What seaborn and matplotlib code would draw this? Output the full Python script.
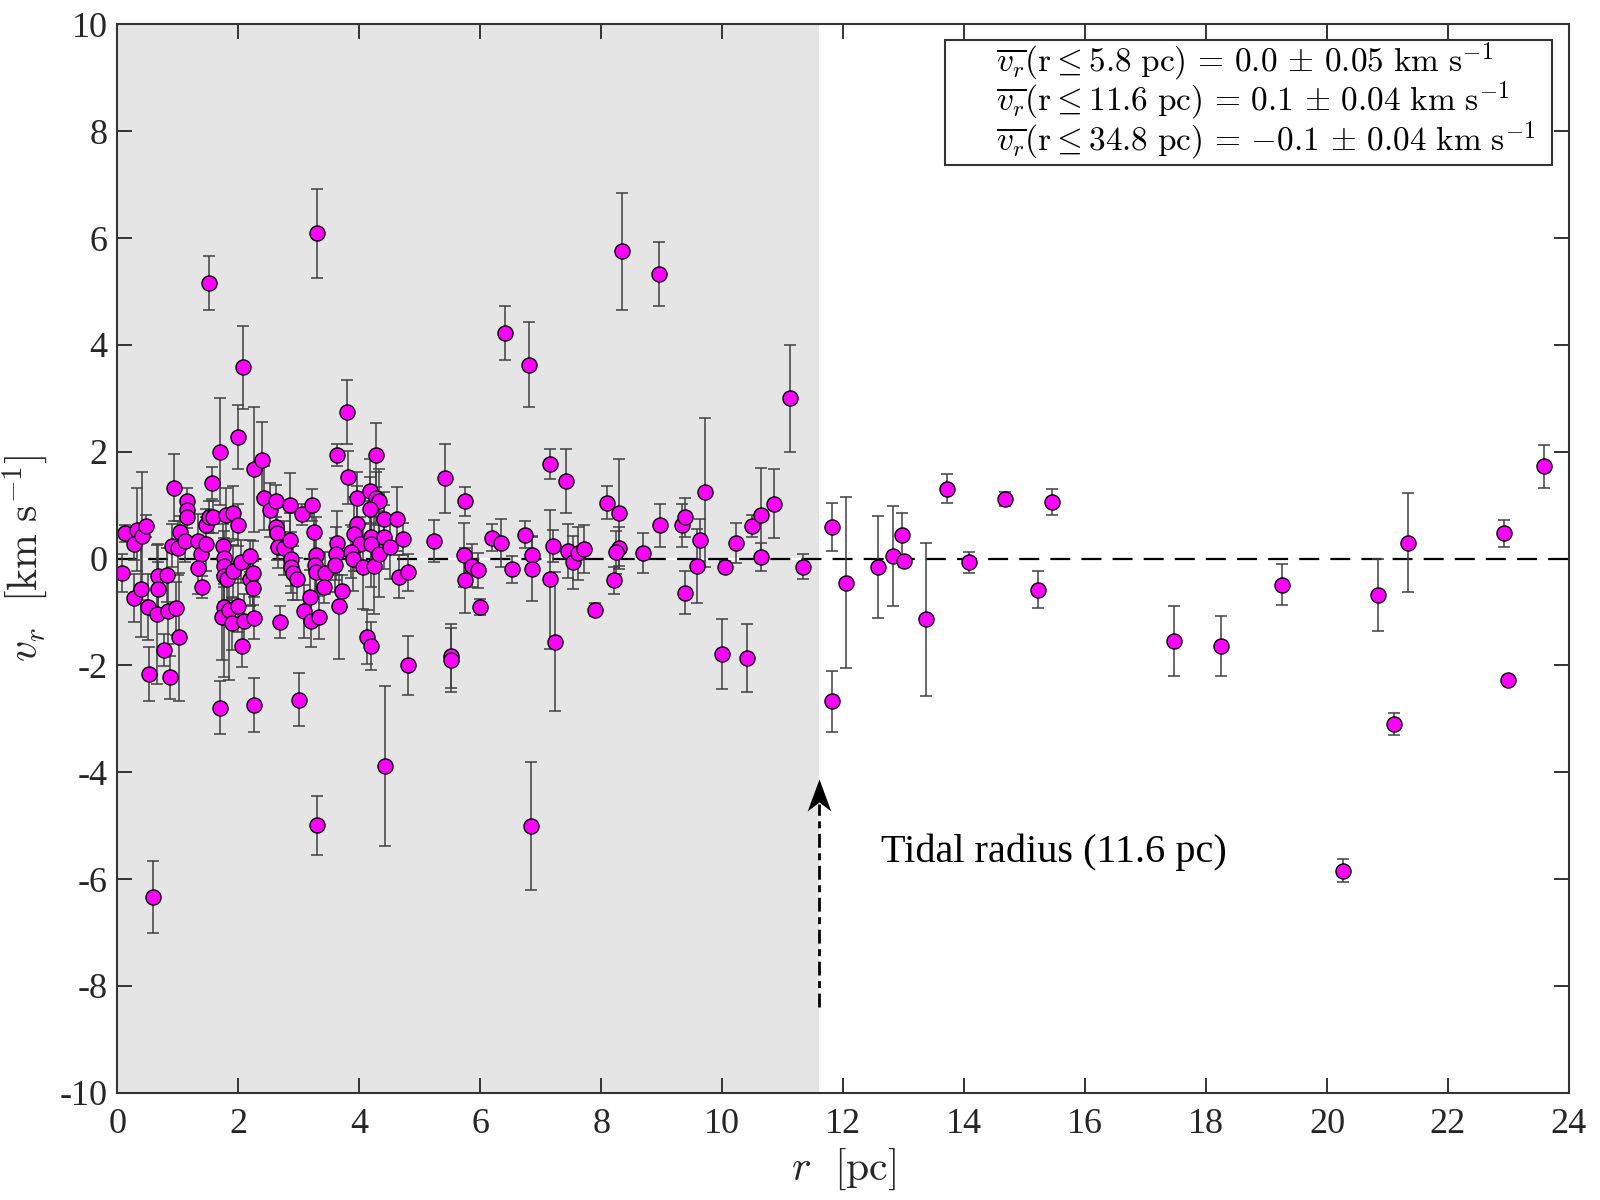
import numpy as np
import pandas as pd
import matplotlib
matplotlib.use("Agg")
import matplotlib.pyplot as plt
import seaborn as sns
from matplotlib.patches import Rectangle
from matplotlib.path import Path

# ---------------- data ----------------
r_pc = [
    0.07, 0.13, 0.28, 0.33, 0.41, 0.47, 0.27, 0.40, 0.51, 0.65, 0.68, 0.68, 0.83, 0.84, 0.97,
    0.78, 1.02, 0.53, 0.87, 0.93, 0.90, 1.00, 1.04, 1.12, 1.15, 1.15, 1.16, 1.34, 1.38, 1.47,
    1.34, 1.40, 1.56, 1.46, 1.51, 1.58, 1.69, 1.80, 1.92, 1.99, 2.00, 2.26, 2.40, 1.74, 1.77,
    1.77, 1.77, 1.81, 1.92, 2.05, 2.20, 2.20, 2.25, 2.25, 1.77, 1.73, 1.85, 1.89, 2.00, 2.10,
    2.26, 2.06, 2.43, 2.53, 2.62, 2.62, 2.64, 2.66, 2.75, 2.69, 2.86, 2.86,
    0.59, 1.52, 2.08, 1.69, 2.26,
    3.80, 3.64, 4.28, 3.82, 3.97, 4.17, 4.28, 4.32, 4.17, 4.41, 4.63, 3.05, 3.22, 3.25, 2.88,
    2.88, 2.91, 2.97, 3.29, 3.27, 3.29, 3.43, 3.42, 3.63, 3.62, 3.60, 3.71, 3.67, 3.19, 3.08,
    3.20, 3.33, 3.96, 3.92, 4.01, 3.86, 3.90, 4.07, 4.20, 4.20, 4.25, 4.32, 4.41, 4.51, 4.72,
    4.66, 4.80, 4.13, 4.19, 4.81, 3.01, 3.31, 3.31, 4.42,
    5.23, 5.42, 5.51, 5.52, 5.75, 5.74, 5.86, 5.96, 5.75, 5.99, 6.20, 6.35, 6.53, 6.74, 6.86,
    6.86, 6.41, 6.80, 6.84, 7.16, 7.42, 7.20, 7.15, 7.23, 7.45, 7.53, 7.61, 7.72, 7.90, 8.10,
    8.29, 8.30, 8.25, 8.21, 8.34, 8.69, 8.95, 8.97, 9.34, 9.38, 9.39, 9.58, 9.64, 9.71, 10.00,
    10.04, 10.23, 10.41, 10.49, 10.64, 10.65, 10.85, 11.12, 11.33,
    11.82, 11.82, 12.05, 12.58, 12.83, 12.98, 13.00, 13.37, 13.72, 14.08, 14.67, 15.23, 15.45,
    17.47, 18.25, 19.26, 20.26, 20.85, 21.10, 21.34, 22.93, 22.99, 23.58,
]
vr_kms = [
    -0.27, 0.47, 0.27, 0.54, 0.42, 0.61, -0.74, -0.57, -0.90, -1.04, -0.33, -0.57, -0.31, -0.99, -0.93,
    -1.71, -1.47, -2.16, -2.22, 1.33, 0.24, 0.20, 0.49, 0.33, 1.08, 0.91, 0.77, 0.33, 0.08, 0.27,
    -0.17, -0.53, 1.41, 0.63, 0.77, 0.78, 2.00, 0.82, 0.86, 0.63, 2.27, 1.67, 1.85, 0.24, 0.02,
    -0.14, -0.32, -0.38, -0.24, -0.06, 0.04, -0.38, -0.27, -0.55, -0.91, -1.10, -0.97, -1.21, -0.88, -1.16,
    -1.11, -1.63, 1.13, 0.91, 1.07, 0.60, 0.47, 0.22, 0.20, -1.18, 1.00, 0.35,
    -6.34, 5.16, 3.58, -2.79, -2.74,
    2.75, 1.94, 1.94, 1.52, 1.13, 1.27, 1.13, 1.07, 0.92, 0.75, 0.74, 0.83, 1.00, 0.49, -0.01,
    -0.15, -0.27, -0.38, 0.07, -0.12, -0.26, -0.27, -0.53, 0.29, 0.09, -0.12, -0.60, -0.88, -0.72, -0.99,
    -1.16, -1.10, 0.65, 0.46, 0.27, 0.13, -0.01, -0.15, 0.41, 0.27, -0.13, 0.09, 0.41, 0.21, 0.37,
    -0.34, -0.26, -1.47, -1.64, -2.00, -2.64, 6.09, -4.99, -3.88,
    0.33, 1.50, -1.83, -1.90, 1.07, 0.06, -0.13, -0.22, -0.41, -0.91, 0.39, 0.29, -0.20, 0.45, 0.07,
    -0.20, 4.22, 3.63, -5.00, 1.77, 1.46, 0.24, -0.39, -1.56, 0.14, -0.07, 0.10, 0.18, -0.96, 1.05,
    0.86, 0.20, 0.12, -0.41, 5.75, 0.10, 5.33, 0.62, 0.62, 0.77, -0.64, -0.14, 0.35, 1.24, -1.79,
    -0.15, 0.29, -1.86, 0.61, 0.82, 0.03, 1.03, 3.00, -0.15,
    0.60, -2.67, -0.45, -0.16, 0.05, 0.45, -0.05, -1.14, 1.31, -0.07, 1.12, -0.58, 1.06,
    -1.54, -1.63, -0.49, -5.84, -0.68, -3.10, 0.30, 0.47, -2.28, 1.73,
]
vr_err = [
    0.36, 0.15, 0.30, 0.78, 1.20, 0.20, 0.45, 0.90, 0.62, 1.30, 0.60, 0.50, 0.50, 0.60, 0.50,
    0.30, 1.20, 0.50, 0.40, 0.62, 0.40, 0.50, 0.30, 0.40, 0.25, 0.20, 0.20, 0.50, 0.30, 0.50,
    0.50, 0.20, 0.30, 0.30, 0.30, 0.30, 1.00, 0.50, 0.50, 0.40, 0.60, 1.17, 0.70, 0.40, 0.50,
    0.40, 0.50, 0.40, 0.50, 0.40, 0.30, 0.50, 0.60, 0.50, 1.30, 0.80, 1.30, 0.50, 0.50, 0.50,
    0.40, 0.40, 0.60, 0.50, 0.30, 0.40, 0.50, 0.40, 0.50, 0.30, 0.60, 0.50,
    0.67, 0.50, 0.77, 0.50, 0.50,
    0.60, 0.20, 0.60, 0.50, 0.50, 0.60, 0.50, 0.60, 0.60, 0.50, 0.60, 0.20, 0.30, 0.50, 0.50,
    0.50, 0.50, 0.40, 0.70, 0.50, 0.40, 0.40, 0.30, 0.60, 0.50, 0.50, 0.30, 1.00, 0.50, 0.50,
    0.50, 0.40, 0.70, 0.70, 0.50, 0.50, 0.60, 0.80, 0.60, 0.80, 0.90, 0.80, 0.60, 0.60, 0.30,
    0.40, 0.35, 0.50, 0.45, 0.55, 0.50, 0.83, 0.55, 1.50,
    0.40, 0.64, 0.60, 0.60, 0.27, 0.60, 0.40, 0.33, 0.60, 0.15, 0.25, 0.45, 0.25, 0.25, 0.35,
    0.60, 0.50, 0.80, 1.20, 0.28, 0.60, 0.30, 1.30, 1.30, 0.50, 0.50, 0.50, 0.45, 0.12, 0.30,
    1.00, 0.40, 0.40, 0.25, 1.10, 0.37, 0.60, 0.40, 0.40, 0.37, 0.40, 0.70, 0.40, 1.40, 0.66,
    0.10, 0.38, 0.64, 0.20, 0.87, 0.27, 0.65, 1.00, 0.24,
    0.45, 0.57, 1.60, 0.95, 0.93, 0.40, 0.10, 1.43, 0.27, 0.20, 0.13, 0.35, 0.25,
    0.66, 0.56, 0.38, 0.22, 0.67, 0.20, 0.93, 0.25, 0.05, 0.40,
]

tidal_radius = 11.6
x_ticks = list(range(0, 25, 2))
y_ticks = list(range(-10, 11, 2))
legend_lines = [
    r"$\overline{v_r}(\mathrm{r} \leq 5.8\ \mathrm{pc})\,=\,0.0\,\pm\,0.05\ \mathrm{km\ s}^{-1}$",
    r"$\overline{v_r}(\mathrm{r} \leq 11.6\ \mathrm{pc})\,=\,0.1\,\pm\,0.04\ \mathrm{km\ s}^{-1}$",
    r"$\overline{v_r}(\mathrm{r} \leq 34.8\ \mathrm{pc})\,=\,{-}0.1\,\pm\,0.04\ \mathrm{km\ s}^{-1}$",
]
tidal_label = "Tidal radius (11.6 pc)"

df = pd.DataFrame({"r": r_pc, "vr": vr_kms, "err": vr_err})

# ---------------- styling ----------------
sns.set_style("ticks")
plt.rcParams["font.family"] = ["Liberation Serif", "DejaVu Serif"]
plt.rcParams["axes.unicode_minus"] = False

fig = plt.figure(figsize=(16, 12), dpi=100)
ax = fig.add_axes([0.0733, 0.0894, 0.9073, 0.8902])

spine_c = "#333333"
ax.axvspan(0, tidal_radius, color="#e5e5e5", zorder=0, lw=0)
ax.axhline(0, color="black", lw=1.6, dashes=(9, 5), gapcolor="white", zorder=2)

ax.errorbar(df["r"], df["vr"], yerr=df["err"], fmt="none", ecolor="#404040",
            elinewidth=1.1, capsize=4.0, capthick=1.1, zorder=3)
sns.scatterplot(data=df, x="r", y="vr", ax=ax, s=118, color="#ff00ff",
                edgecolor="black", linewidth=1.0, zorder=4, legend=False)

# tidal radius arrow (dashed shaft + concave head marker)
ax.plot([tidal_radius, tidal_radius], [-8.4, -4.6], color="black", lw=2.0,
        dashes=(5, 2, 2.5, 2), zorder=5)
head = Path([(0, 0), (-0.37, -1.0), (0, -0.72), (0.37, -1.0), (0, 0)],
            [Path.MOVETO, Path.LINETO, Path.LINETO, Path.LINETO, Path.CLOSEPOLY])
ax.plot([tidal_radius], [-4.12], marker=head, markersize=46, color="black",
        markeredgewidth=0, linestyle="none", zorder=6)
ax.text(12.62, -5.5, tidal_label, fontsize=29, ha="left", va="center",
        color="black", zorder=6)

# info box
ax.add_patch(Rectangle((13.68, 7.37), 23.72 - 13.68, 9.71 - 7.37, facecolor="white",
                       edgecolor=spine_c, lw=1.5, zorder=7))
for yy, txt in zip([9.30, 8.57, 7.83], legend_lines):
    ax.text(14.52, yy, txt, fontsize=24, ha="left", va="center", color="black",
            math_fontfamily="cm", zorder=8)

ax.set_xlim(0, 24)
ax.set_ylim(-10, 10)
ax.set_xticks(x_ticks)
ax.set_yticks(y_ticks)
ax.tick_params(direction="in", length=11, width=1.4, color=spine_c, labelsize=26,
               labelcolor="#262626", top=True, right=True)
ax.tick_params(axis="x", pad=11)
ax.tick_params(axis="y", pad=7)
for s in ax.spines.values():
    s.set_color(spine_c)
    s.set_linewidth(1.5)
    s.set_zorder(9)

ax.set_xlabel(r"$r\ \ [\mathrm{pc}]$", fontsize=30, math_fontfamily="cm", va="center")
ax.set_ylabel(r"$v_r\ \ [\mathrm{km\ s}^{-1}]$", fontsize=30, math_fontfamily="cm", va="center")
ax.xaxis.set_label_coords(0.5, -0.072)
ax.yaxis.set_label_coords(-0.0636, 0.5)

fig.savefig("out.png", dpi=100)
